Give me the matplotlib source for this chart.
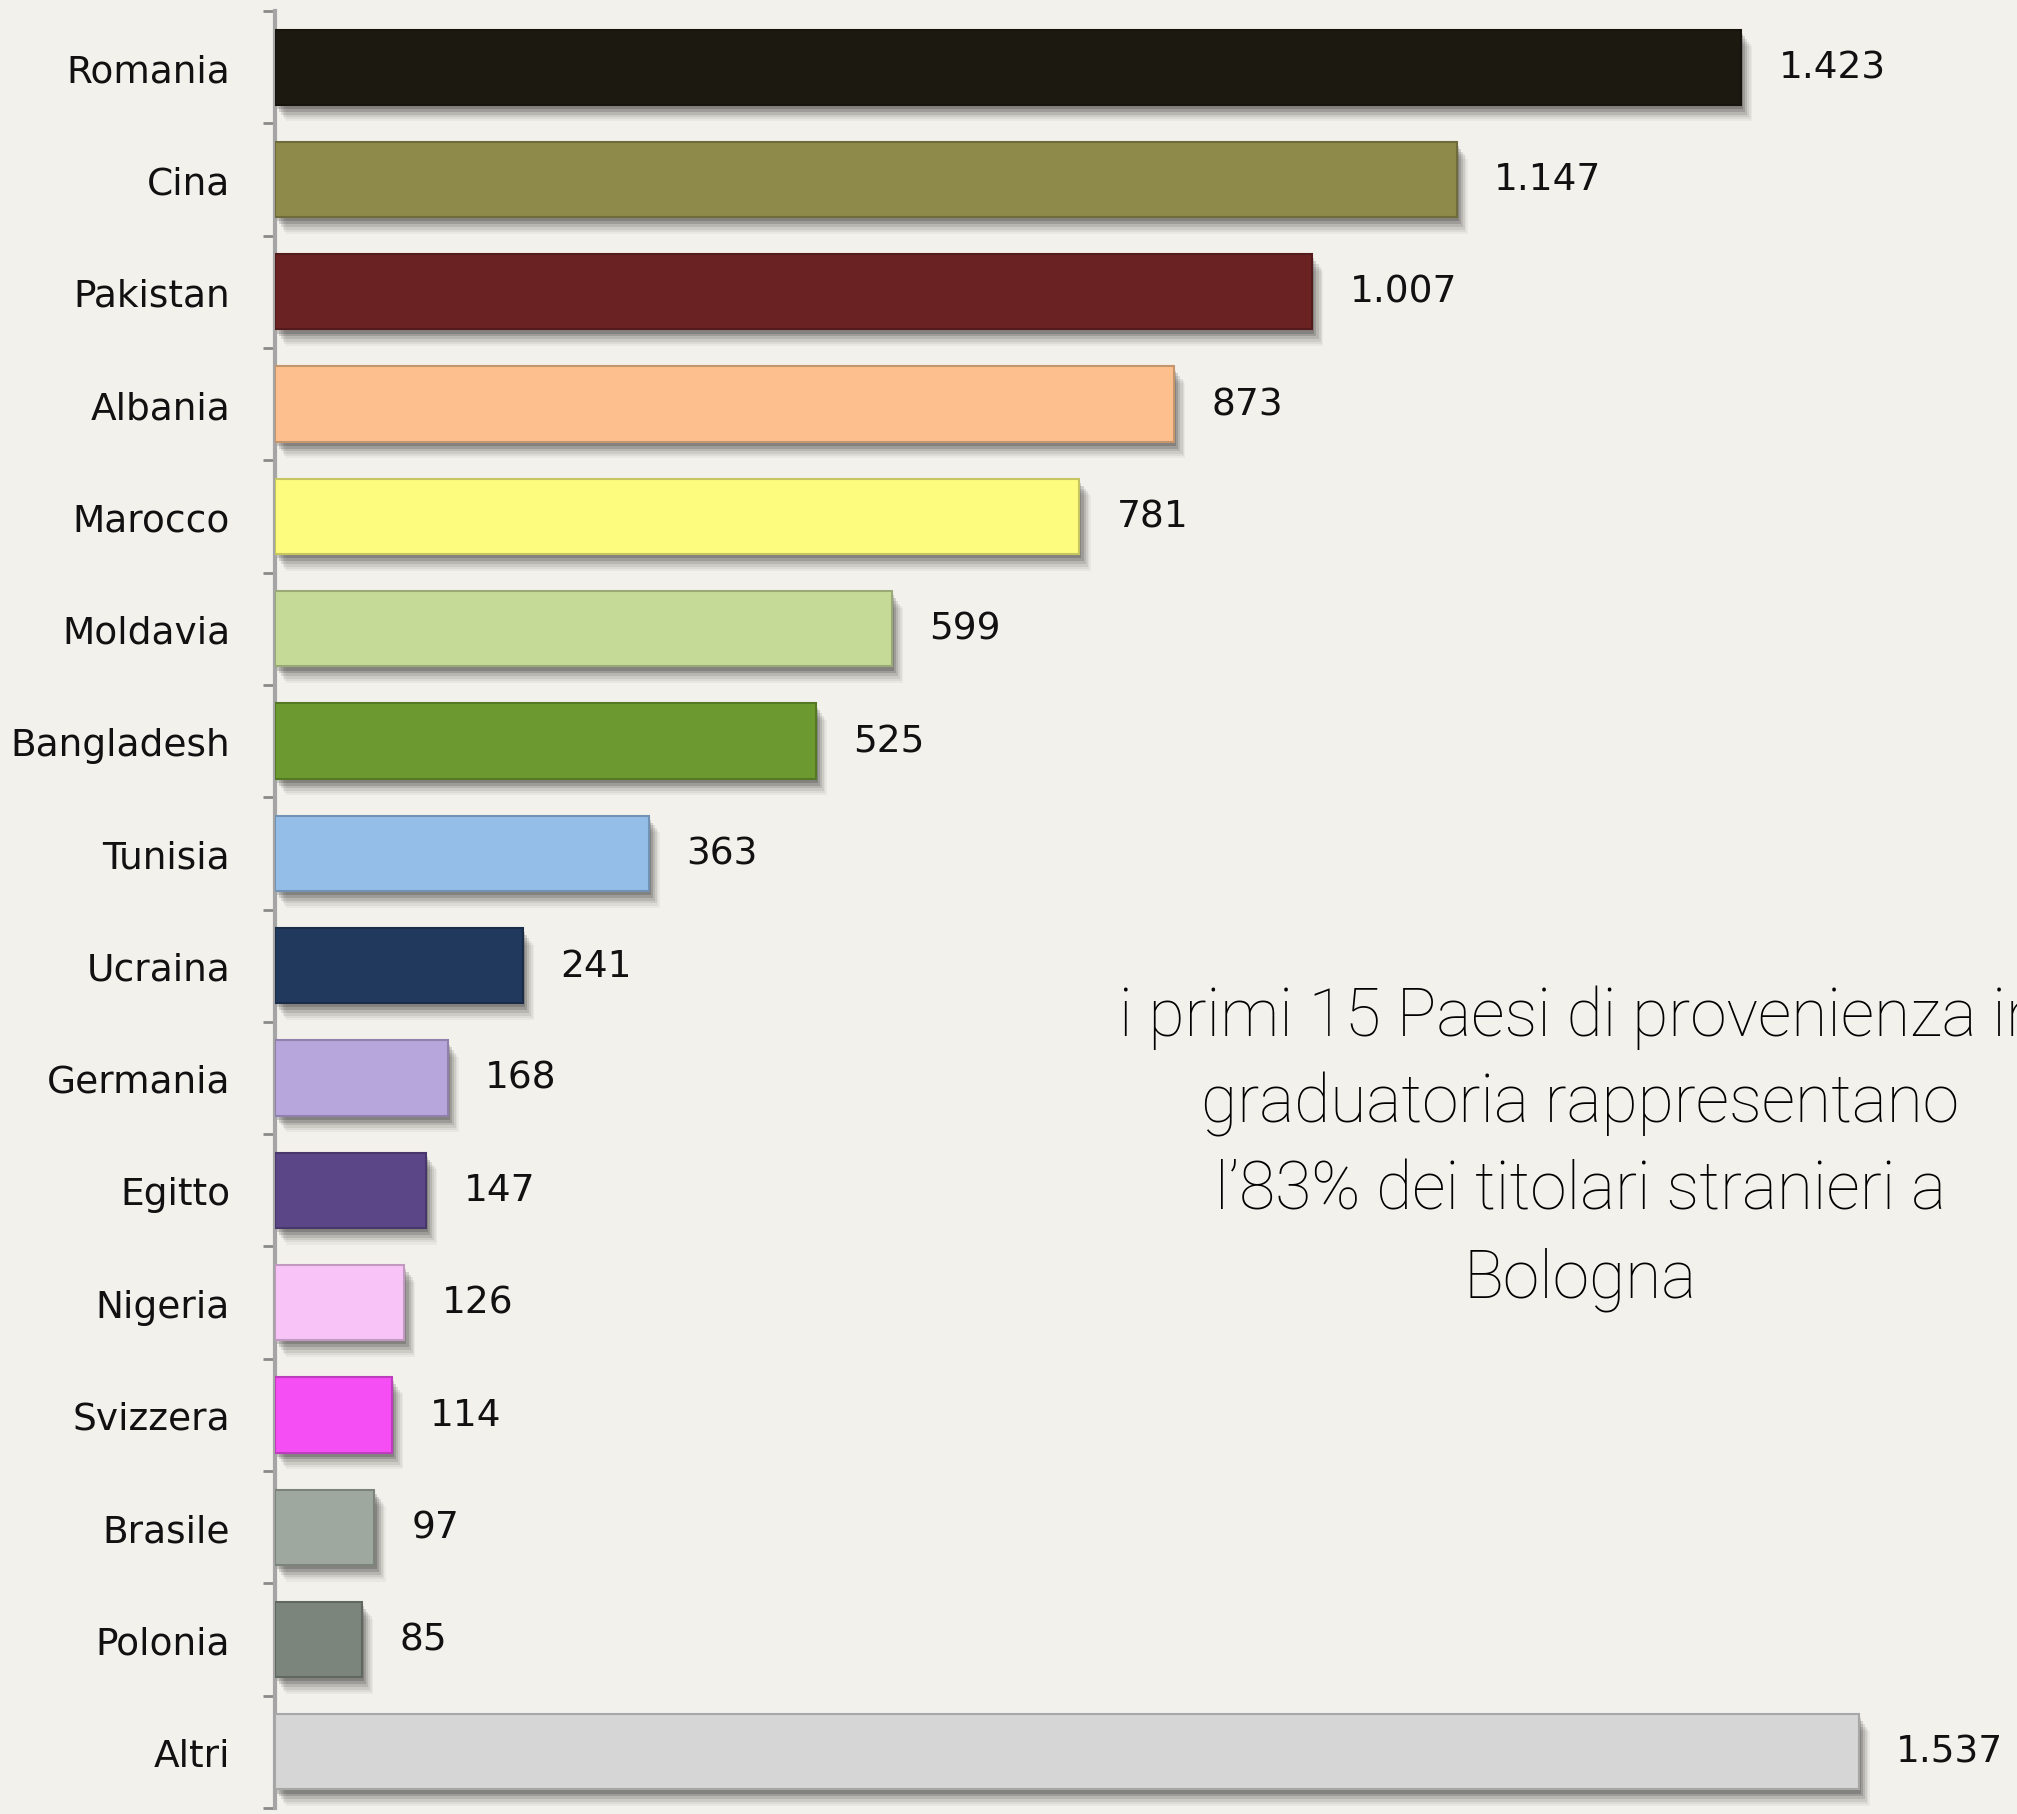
import matplotlib
matplotlib.use("Agg")
import matplotlib.pyplot as plt
import matplotlib.patheffects as pe
import numpy as np

# ---- data ----
countries = ["Romania", "Cina", "Pakistan", "Albania", "Marocco", "Moldavia",
             "Bangladesh", "Tunisia", "Ucraina", "Germania", "Egitto",
             "Nigeria", "Svizzera", "Brasile", "Polonia", "Altri"]
values = [1423, 1147, 1007, 873, 781, 599, 525, 363, 241, 168, 147, 126, 114, 97, 85, 1537]
value_labels = ["1.423", "1.147", "1.007", "873", "781", "599", "525", "363",
                "241", "168", "147", "126", "114", "97", "85", "1.537"]
colors = ["#1c1a10", "#8d8a4a", "#6b2222", "#fdbf8d", "#fdfc7e", "#c6da98",
          "#6d9a30", "#94bde8", "#20395c", "#b7a6dc", "#5b4688", "#f8c4f8",
          "#f44ef4", "#9ea89e", "#7b857b", "#d6d6d6"]
note_lines = ["i primi 15 Paesi di provenienza in",
              "graduatoria rappresentano",
              "l\u201983% dei titolari stranieri a",
              "Bologna"]

BG = "#f3f1ec"
W, H = 2017, 1815
fig = plt.figure(figsize=(W / 100, H / 100), dpi=100, facecolor=BG)
ax = fig.add_axes([274.5 / W, 1 - 1809 / H, 1 - 274.5 / W, (1809 - 12) / H])
ax.set_facecolor(BG)

y = np.arange(len(countries))

def darker(c, f=0.78):
    r, g, b = matplotlib.colors.to_rgb(c)
    return (r * f, g * f, b * f)

bars = ax.barh(y, values, height=0.67, color=colors,
               edgecolor=[darker(c) for c in colors], linewidth=1.5, zorder=3)
shadow_layers = [((8, -12), 0.04), ((7, -10.5), 0.05), ((6, -9), 0.07),
                 ((4.5, -7), 0.10), ((3, -5), 0.14), ((1.5, -3), 0.16)]
for b in bars:
    b.set_path_effects(
        [pe.SimplePatchShadow(offset=o, shadow_rgbFace="#000000", alpha=a)
         for o, a in shadow_layers] + [pe.Normal()])

for yi, v, lab in zip(y, values, value_labels):
    ax.annotate(lab, xy=(v, yi), xytext=(27, 0), textcoords="offset points",
                ha="left", va="center", fontsize=27, color="#111111",
                family="DejaVu Sans")

ax.set_xlim(0, (W - 274.5) / 1.0306)
ax.set_ylim(len(countries) - 0.5, -0.5)

ax.set_yticks(y)
ax.set_yticklabels(countries, fontsize=27, color="#111111", family="DejaVu Sans")
ax.tick_params(axis="y", which="major", length=0, pad=32)
ax.set_yticks(np.arange(-0.5, len(countries), 1.0), minor=True)
ax.tick_params(axis="y", which="minor", length=9, width=2, color="#8a8a8a",
               direction="out")
ax.set_xticks([])

for s in ["top", "right", "bottom"]:
    ax.spines[s].set_visible(False)
ax.spines["left"].set_color("#a5a5a5")
ax.spines["left"].set_linewidth(3)

baselines = [1036, 1123, 1210, 1298]
for line, bl in zip(note_lines, baselines):
    fig.text(1580 / W, 1 - bl / H, line, ha="center", va="baseline",
             fontsize=47.5, color="#000000", family=["Roboto", "DejaVu Sans"],
             fontweight="light")

fig.savefig("out.png", dpi=100, facecolor=BG)
